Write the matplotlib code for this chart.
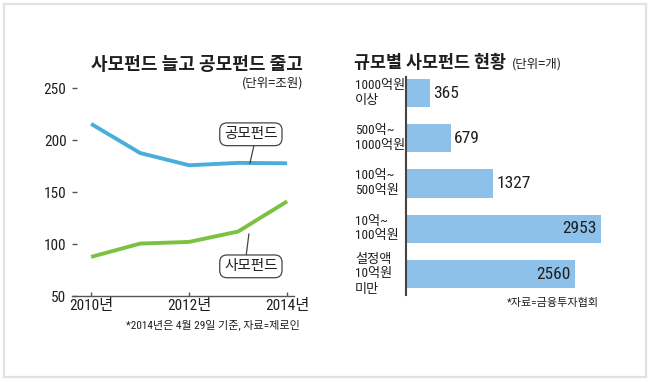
import matplotlib
matplotlib.use("Agg")
import matplotlib.pyplot as plt
from matplotlib.patches import Rectangle

plt.rcParams['font.family'] = ['Noto Sans CJK KR', 'DejaVu Sans']
NARROW = ['Roboto Condensed', 'Noto Sans CJK KR', 'DejaVu Sans']

# ---- data: left line chart ----
years = [2010, 2011, 2012, 2013, 2014]
public_funds = [215.5, 187.5, 175.7, 178.0, 177.6]   # 공모펀드
private_funds = [87.6, 100.4, 102.0, 112.0, 141.0]   # 사모펀드
y_ticks = [50, 100, 150, 200, 250]
x_ticks = [2010, 2012, 2014]
x_tick_labels = ['2010년', '2012년', '2014년']

# ---- data: right bar chart ----
size_categories = ['1000억원\n이상', '500억~\n1000억원', '100억~\n500억원',
                   '10억~\n100억원', '설정액\n10억원\n미만']
fund_counts = [365, 679, 1327, 2953, 2560]

W, H = 650, 382
fig = plt.figure(figsize=(W / 100, H / 100), dpi=100)
fig.patch.set_facecolor('white')

def fx(px):
    return px / W

def fy(py):
    return 1 - py / H

# outer border
fig.patches.append(Rectangle((fx(4), fy(377)), fx(642), 373 / H, transform=fig.transFigure,
                             fill=False, edgecolor='#e2e2e2', linewidth=1.6))

BLUE = '#4aaedb'
GREEN = '#7dc142'
TXT = '#1e1e1e'

# ---------------- left chart ----------------
ax1 = fig.add_axes([fx(72), fy(296), fx(294 - 72), (296 - 88) / H])
ax1.plot(years, public_funds, color=BLUE, lw=2.8, solid_joinstyle='round', solid_capstyle='butt')
ax1.plot(years, private_funds, color=GREEN, lw=2.8, solid_joinstyle='round', solid_capstyle='butt')
ax1.set_xlim(2009.61, 2014.14)
ax1.set_ylim(50, 250)
for s in ['top', 'right', 'left']:
    ax1.spines[s].set_visible(False)
ax1.spines['bottom'].set_color('#555555')
ax1.spines['bottom'].set_linewidth(1.0)
ax1.set_yticks(y_ticks)
ax1.set_yticklabels([str(v) for v in y_ticks], family=NARROW, fontsize=11)
ax1.tick_params(axis='y', direction='in', length=3.5, width=1, color='#555555', pad=4,
                labelcolor=TXT)
ax1.set_xticks(x_ticks)
ax1.set_xticklabels(x_tick_labels, family=NARROW, fontsize=11)
ax1.tick_params(axis='x', direction='in', length=3, width=1, color='#555555', pad=2,
                labelcolor=TXT)
ax1.patch.set_alpha(0)

# callout labels
box = dict(boxstyle='round,pad=0.3,rounding_size=0.5', fc='white', ec='#444444', lw=0.9)
ax1.plot([2013.34, 2013.24], [198.3, 177.6], color='#444444', lw=0.9, clip_on=False)
ax1.text(2013.26, 205.5, '공모펀드', ha='center', va='center', fontsize=10.5, color=TXT,
         bbox=box, clip_on=False, zorder=5)
ax1.plot([2013.22, 2013.16], [109.6, 87.5], color='#444444', lw=0.9, clip_on=False)
ax1.text(2013.26, 78.5, '사모펀드', ha='center', va='center', fontsize=10.5, color=TXT,
         bbox=box, clip_on=False, zorder=5)

fig.text(fx(303), fy(65), '사모펀드 늘고 공모펀드 줄고', ha='right', va='center',
         fontsize=13, fontweight='bold', color=TXT)
fig.text(fx(303), fy(83), '(단위=조원)', ha='right', va='center', fontsize=9, color=TXT)
fig.text(fx(300), fy(325), '*2014년은 4월 29일 기준, 자료=제로인', ha='right', va='center',
         fontsize=8, color=TXT, family=NARROW)

# ---------------- right chart ----------------
ax2 = fig.add_axes([fx(406), fy(295), fx(214), (295 - 77) / H])
ypos = list(range(len(fund_counts)))
ax2.barh(ypos, fund_counts, height=0.62, color='#8dc1ea', edgecolor='none')
ax2.set_xlim(0, 3247)
ax2.set_ylim(4.464, -0.354)
for s in ['top', 'right', 'bottom']:
    ax2.spines[s].set_visible(False)
ax2.spines['left'].set_color('#444444')
ax2.spines['left'].set_linewidth(1.5)
ax2.set_xticks([])
ax2.set_yticks([])
ax2.patch.set_alpha(0)

for i, v in enumerate(fund_counts):
    if v > 2000:
        ax2.annotate(str(v), (v, i), xytext=(-3, 0), textcoords='offset points',
                     ha='right', va='center', fontsize=12.5, color=TXT, family=NARROW)
    else:
        ax2.annotate(str(v), (v, i), xytext=(2, 0), textcoords='offset points',
                     ha='left', va='center', fontsize=12.5, color=TXT, family=NARROW)

bar_centers_px = [93, 138, 183, 228.5, 274]
for lab, cy in zip(size_categories, bar_centers_px):
    fig.text(fx(355), fy(cy), lab, ha='left', va='center', fontsize=9.5, color=TXT,
             linespacing=1.2, multialignment='left', family=NARROW)

fig.text(fx(354), fy(63), '규모별 사모펀드 현황', ha='left', va='center',
         fontsize=12.5, fontweight='bold', color=TXT)
fig.text(fx(512), fy(64), '(단위=개)', ha='left', va='center', fontsize=9, color=TXT)
fig.text(fx(507), fy(303), '*자료=금융투자협회', ha='left', va='center', fontsize=8, color=TXT,
         family=NARROW)

fig.savefig('out.png', dpi=100, facecolor='white')
